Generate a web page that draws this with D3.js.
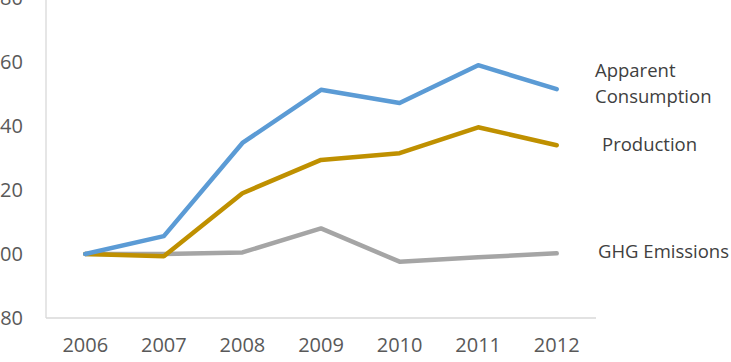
<!DOCTYPE html>
<html>
<head>
<meta charset="utf-8">
<script src="https://cdn.jsdelivr.net/npm/d3@7"></script>
<style>
  body { margin: 0; background: #fff; }
  svg { display: block; font-family: "Open Sans", sans-serif; }
</style>
</head>
<body>
<div id="chart"></div>
<script>
// data
var years = ["2006", "2007", "2008", "2009", "2010", "2011", "2012"];
var consumption = [100, 105.6, 134.7, 151.3, 147.2, 159, 151.5];
var production = [100, 99.3, 119, 129.4, 131.5, 139.6, 134];
var ghg = [100, 100, 100.5, 108, 97.6, 99, 100.2];
var yTicks = [80, 100, 120, 140, 160, 180];

var seriesNames = ["Apparent Consumption", "Production", "GHG Emissions"];
var seriesColors = ["#5B9BD5", "#BF9000", "#A5A5A5"];

var width = 731, height = 362;
var plotLeft = 46, plotRight = 596, plotTop = -2, plotBottom = 318;

var svg = d3.select("#chart").append("svg")
  .attr("width", width)
  .attr("height", height);

var xScale = d3.scaleBand().domain(years).range([plotLeft, plotRight]);
var yScale = d3.scaleLinear().domain([80, 180]).range([plotBottom, plotTop]);

// axes
var yAxis = d3.axisLeft(yScale).tickValues(yTicks).tickSize(0).tickPadding(23);
var gy = svg.append("g")
  .attr("transform", "translate(" + plotLeft + ",0)")
  .call(yAxis);
gy.select(".domain").remove();
gy.selectAll("text")
  .attr("fill", "#595959")
  .style("font-size", "20px")
  .style("font-family", "Open Sans");

var xAxis = d3.axisBottom(xScale).tickSize(0).tickPadding(20);
var gx = svg.append("g")
  .attr("transform", "translate(0," + plotBottom + ")")
  .call(xAxis);
gx.select(".domain").remove();
gx.selectAll("text")
  .attr("fill", "#595959")
  .style("font-size", "20px")
  .style("font-family", "Open Sans");

// plot border lines (left & bottom)
svg.append("line")
  .attr("x1", plotLeft).attr("x2", plotLeft)
  .attr("y1", 0).attr("y2", plotBottom)
  .attr("stroke", "#D9D9D9").attr("stroke-width", 1.3);
svg.append("line")
  .attr("x1", plotLeft).attr("x2", plotRight)
  .attr("y1", plotBottom).attr("y2", plotBottom)
  .attr("stroke", "#D9D9D9").attr("stroke-width", 1.3);

// lines
var line = d3.line()
  .x(function (d, i) { return xScale(years[i]) + xScale.bandwidth() / 2; })
  .y(function (d) { return yScale(d); });

var allSeries = [consumption, production, ghg];
// draw gray first so the others sit on top, like the original
[2, 1, 0].forEach(function (k) {
  svg.append("path")
    .datum(allSeries[k])
    .attr("d", line)
    .attr("fill", "none")
    .attr("stroke", seriesColors[k])
    .attr("stroke-width", 4.5)
    .attr("stroke-linejoin", "round")
    .attr("stroke-linecap", "round");
});

// series labels on the right
var labels = [
  { lines: ["Apparent", "Consumption"], x: 595, y: 77 },
  { lines: ["Production"], x: 602, y: 151 },
  { lines: ["GHG Emissions"], x: 598, y: 258 }
];

labels.forEach(function (lab) {
  var t = svg.append("text")
    .attr("x", lab.x)
    .attr("y", lab.y)
    .attr("fill", "#404040")
    .style("font-size", "18.5px");
  lab.lines.forEach(function (s, i) {
    t.append("tspan")
      .attr("x", lab.x)
      .attr("dy", i == 0 ? 0 : 26)
      .text(s);
  });
});
</script>
</body>
</html>
